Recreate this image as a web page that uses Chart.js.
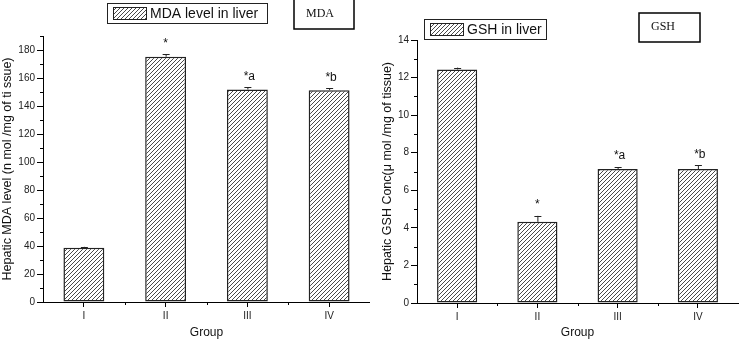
<!DOCTYPE html>
<html>
<head>
<meta charset="utf-8">
<script src="https://cdn.jsdelivr.net/npm/chart.js@4"></script>
<style>
  body { margin: 0; background: #fff; }
  .panel { position: absolute; top: 0; height: 341px; }
  #leftPanel { left: 0; width: 370px; }
  #rightPanel { left: 370px; width: 369px; }
</style>
</head>
<body>
<div class="panel" id="leftPanel"><canvas id="mdaChart"></canvas></div>
<div class="panel" id="rightPanel"><canvas id="gshChart"></canvas></div>
<script>
const groups = ["I", "II", "III", "IV"];

const mdaValues = [38.8, 175.2, 151.8, 151.3];
const mdaErrors = [0.6, 1.6, 1.6, 1.2];
const mdaMarks = ["", "*", "*a", "*b"];
const mdaTicks = [0, 20, 40, 60, 80, 100, 120, 140, 160, 180];
const mdaMinor = [10, 30, 50, 70, 90, 110, 130, 150, 170, 190];

const gshValues = [12.43, 4.32, 7.13, 7.13];
const gshErrors = [0.1, 0.32, 0.1, 0.2];
const gshMarks = ["", "*", "*a", "*b"];
const gshTicks = [0, 2, 4, 6, 8, 10, 12, 14];
const gshMinor = [1, 3, 5, 7, 9, 11, 13];

const sans = "'Liberation Sans', Arial, sans-serif";

function makeHatch() {
  const c = document.createElement("canvas");
  c.width = 4; c.height = 4;
  const g = c.getContext("2d");
  g.fillStyle = "#fff";
  g.fillRect(0, 0, 4, 4);
  g.fillStyle = "#4a4a4a";
  for (let i = 0; i < 4; i++) g.fillRect(i, 3 - i, 1, 1);
  return g.createPattern(c, "repeat");
}

// error bars, star labels and minor ticks
function overlayPlugin(errors, marks, minor, legend, titleBox) {
  return {
    id: "overlay",
    afterDatasetsDraw(chart) {
      const ctx = chart.ctx;
      const x = chart.scales.x, y = chart.scales.y;
      const vals = chart.data.datasets[0].data;
      ctx.save();
      ctx.strokeStyle = "#222";
      ctx.lineWidth = 1;
      vals.forEach((v, i) => {
        const px = x.getPixelForValue(i);
        const top = y.getPixelForValue(v);
        const et = y.getPixelForValue(v + errors[i]);
        ctx.beginPath();
        ctx.moveTo(px + 0.5, top);
        ctx.lineTo(px + 0.5, et);
        ctx.moveTo(px - 3, Math.round(et) + 0.5);
        ctx.lineTo(px + 4, Math.round(et) + 0.5);
        ctx.stroke();
        if (marks[i]) {
          ctx.fillStyle = "#111";
          ctx.font = "12px " + sans;
          ctx.textAlign = "center";
          ctx.textBaseline = "middle";
          ctx.fillText(marks[i], px + (marks[i].length > 1 ? 2 : 0), et - 11);
        }
      });
      // minor ticks
      ctx.strokeStyle = "#000";
      ctx.beginPath();
      minor.forEach(m => {
        const py = Math.round(y.getPixelForValue(m)) + 0.5;
        ctx.moveTo(y.right - 3, py);
        ctx.lineTo(y.right, py);
      });
      for (let i = 0; i < groups.length - 1; i++) {
        const px = Math.round((x.getPixelForValue(i) + x.getPixelForValue(i + 1)) / 2) + 0.5;
        ctx.moveTo(px, x.top);
        ctx.lineTo(px, x.top + 3);
      }
      ctx.stroke();
      ctx.restore();
    },
    afterDraw(chart) {
      const ctx = chart.ctx;
      ctx.save();
      // legend
      ctx.strokeStyle = "#222";
      ctx.lineWidth = 1;
      ctx.strokeRect(legend.x + 0.5, legend.y + 0.5, legend.w, legend.h);
      ctx.fillStyle = chart.data.datasets[0].backgroundColor;
      ctx.fillRect(legend.x + 6, legend.y + 4, 33, 12);
      ctx.strokeRect(legend.x + 6.5, legend.y + 4.5, 33, 12);
      ctx.fillStyle = "#111";
      ctx.font = "14px " + sans;
      ctx.textBaseline = "middle";
      ctx.textAlign = "left";
      ctx.fillText(legend.text, legend.x + 43, legend.y + legend.h / 2 + 1);
      // title box
      ctx.lineWidth = 1.5;
      ctx.strokeStyle = "#000";
      ctx.strokeRect(titleBox.x, titleBox.y, titleBox.w, titleBox.h);
      ctx.font = "12px 'Liberation Serif', 'Times New Roman', serif";
      ctx.fillText(titleBox.text, titleBox.x + titleBox.tx, titleBox.y + titleBox.ty);
      ctx.restore();
    }
  };
}

function buildChart(id, values, errors, marks, ticks, minor, opts) {
  const ctx = document.getElementById(id).getContext("2d");
  return new Chart(ctx, {
    type: "bar",
    data: {
      labels: groups,
      datasets: [{
        label: opts.legend.text,
        data: values,
        backgroundColor: makeHatch(),
        borderColor: "#222",
        borderWidth: 1.5,
        borderSkipped: false,
        barPercentage: 0.5,
        categoryPercentage: 1
      }]
    },
    options: {
      responsive: true,
      maintainAspectRatio: false,
      animation: false,
      layout: { padding: { top: opts.top, right: opts.right, left: 0, bottom: 0 } },
      plugins: { legend: { display: false }, tooltip: { enabled: false } },
      scales: {
        x: {
          offset: true,
          afterFit: s => { s.height = opts.xHeight; },
          grid: { offset: false, drawOnChartArea: false, tickLength: 5, color: "#000" },
          border: { color: "#000", width: 1 },
          ticks: { color: "#222", font: { family: sans, size: 10 }, padding: 3 },
          title: { display: true, text: "Group", color: "#111", font: { family: sans, size: 12 }, padding: { top: 0, bottom: 1 } }
        },
        y: {
          min: 0,
          max: opts.max,
          afterFit: s => { s.width = opts.yWidth; },
          afterBuildTicks: s => { s.ticks = ticks.map(v => ({ value: v })); },
          grid: { drawOnChartArea: false, tickLength: 6, color: "#000" },
          border: { color: "#000", width: 1 },
          ticks: { color: "#222", font: { family: sans, size: 10 }, padding: 2 },
          title: { display: true, text: opts.yTitle, color: "#111", font: { family: sans, size: 12.5 }, padding: { top: opts.yTitlePad, bottom: 0 } }
        }
      }
    },
    plugins: [overlayPlugin(errors, marks, minor, opts.legend, opts.titleBox)]
  });
}

buildChart("mdaChart", mdaValues, mdaErrors, mdaMarks, mdaTicks, mdaMinor, {
  max: 190, top: 36, right: 0, xHeight: 39, yWidth: 43, yTitlePad: 0,
  yTitle: "Hepatic MDA level (n mol /mg of ti ssue)",
  legend: { x: 107, y: 3, w: 160, h: 20, text: "MDA level in liver" },
  titleBox: { x: 294, y: -1, w: 60, h: 30, text: "MDA", tx: 12, ty: 15 }
});

buildChart("gshChart", gshValues, gshErrors, gshMarks, gshTicks, gshMinor, {
  max: 14, top: 40, right: 1, xHeight: 38, yWidth: 47, yTitlePad: 10,
  yTitle: "Hepatic GSH Conc(\u03bc mol /mg of tissue)",
  legend: { x: 54, y: 19, w: 122, h: 20, text: "GSH in liver" },
  titleBox: { x: 269, y: 13, w: 61, h: 29, text: "GSH", tx: 12, ty: 14 }
});
</script>
</body>
</html>
